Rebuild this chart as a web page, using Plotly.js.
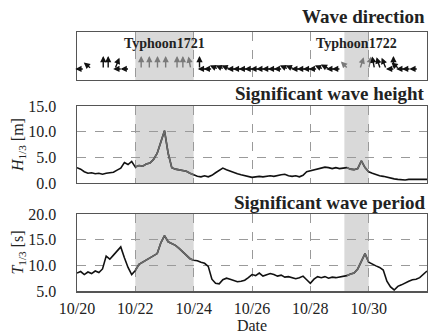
<!DOCTYPE html>
<html><head><meta charset="utf-8">
<script src="https://cdn.plot.ly/plotly-3.0.1.min.js"></script>
<style>html,body{margin:0;padding:0;background:#fff}</style>
</head><body><div id="chart" style="width:428px;height:336px"></div>
<script>
// ---- data ----
const startDate = '2017-10-20';
const sampleStepHours = 3;
// significant wave height H1/3 [m], every 3 h from 10/20 00:00
const waveHeight = [3.0,2.7,2.2,1.9,2.0,1.8,1.9,1.7,1.9,2.0,2.1,2.5,2.9,4.0,3.6,4.2,
  3.1,3.4,3.3,3.7,3.9,4.6,5.8,8.0,10.2,5.8,3.0,2.7,2.6,2.5,2.3,1.9,
  1.6,1.3,1.2,1.4,1.2,1.5,2.0,2.4,2.9,2.6,2.3,2.0,1.8,1.6,1.4,1.2,
  1.1,1.2,1.3,1.2,1.3,1.4,1.3,1.5,1.6,1.7,1.4,1.3,1.4,1.2,1.5,2.2,
  2.4,2.5,2.8,2.9,3.1,3.0,2.8,3.0,2.8,2.9,3.0,2.7,2.6,2.8,4.3,3.0,
  2.2,1.9,1.6,1.4,1.3,1.1,0.9,0.8,0.7,0.6,0.6,0.7,0.7,0.6,0.7,0.7,0.7];
// significant wave period T1/3 [s]
const wavePeriod = [8.5,8.8,8.2,8.7,8.4,8.9,8.6,9.3,11.8,11.2,12.0,12.8,13.6,11.5,9.6,8.2,
  9.0,10.2,10.6,11.0,11.4,11.9,12.3,14.4,15.8,14.6,14.3,13.9,13.3,12.6,11.9,11.3,
  11.0,10.9,10.6,10.4,9.8,7.3,6.5,6.4,7.2,7.5,7.3,7.1,6.8,6.9,7.1,7.6,
  8.2,8.0,8.5,7.9,8.1,8.4,8.2,7.9,8.1,7.7,7.8,7.6,7.4,7.6,7.9,7.2,
  6.5,7.3,7.8,7.6,7.8,7.5,7.7,7.6,7.7,7.9,8.0,8.3,8.5,9.3,10.8,12.3,
  10.6,10.2,9.9,9.6,9.1,6.9,5.8,5.2,5.9,6.2,6.6,6.9,7.2,7.3,7.6,8.3,8.9];
// wave direction arrows: day offset from 10/20 and direction (deg, clockwise from north, pointing to)
const arrowDay = [0.25,0.5,0.9,1.07,1.3,1.55,1.8,
  2.2,2.48,2.76,3.04,3.43,3.63,3.9,
  4.2,4.45,4.65,4.85,5.05,5.25,5.45,5.65,5.85,6.05,6.25,6.45,6.65,6.85,7.05,7.25,7.45,7.65,7.85,8.05,8.25,8.45,8.65,8.85,9.05,
  9.3,9.7,
  10.0,10.2,10.4,10.6,10.85,10.9,11.05,11.25,11.45,11.7];
const arrowDir = [270,300,0,0,30,270,270,
  0,0,0,0,0,0,345,
  0,270,270,285,285,285,270,270,270,270,270,270,270,270,270,285,285,270,270,270,270,285,290,270,270,
  305,25,
  15,345,335,330,0,270,300,270,270,270];
const typhoonNames = ['Typhoon1721','Typhoon1722'];
const typhoonStart = ['2017-10-22 00:00','2017-10-29 04:00'];
const typhoonEnd = ['2017-10-24 00:00','2017-10-30 00:00'];
const xRange = ['2017-10-20','2017-11-01'];

// ---- build ----
const t0 = Date.parse(startDate + 'T00:00:00Z');
function fmt(ms){ return new Date(ms).toISOString().slice(0,16).replace('T',' '); }
const times = waveHeight.map((_, i) => fmt(t0 + i*sampleStepHours*3600000));
function inTyphoon(s){ for (let k=0;k<typhoonStart.length;k++){ if (s>=typhoonStart[k] && s<=typhoonEnd[k]) return k; } return -1; }

const BLACK = '#111', GRAY = '#6a6a6a';
const traces = [];
function addSeries(vals, ya, xa){
  traces.push({x: times, y: vals, type:'scatter', mode:'lines', line:{color:BLACK, width:1.6}, xaxis:xa, yaxis:ya, hoverinfo:'skip'});
  for (let k=0;k<typhoonStart.length;k++){
    const xs=[], ys=[];
    times.forEach((t,i)=>{ if (t>=typhoonStart[k] && t<=typhoonEnd[k]) { xs.push(t); ys.push(vals[i]); } });
    traces.push({x: xs, y: ys, type:'scatter', mode:'lines', line:{color:GRAY, width:1.6}, xaxis:xa, yaxis:ya, hoverinfo:'skip'});
  }
}
addSeries(waveHeight, 'y2', 'x2');
addSeries(wavePeriod, 'y', 'x');
traces.push({x: xRange, y:[0,0], type:'scatter', mode:'lines', line:{width:0}, xaxis:'x3', yaxis:'y3', hoverinfo:'skip', showlegend:false});

const serif = '"Liberation Serif", "Times New Roman", serif';
const TXT = '#222';
const annotations = [];
const baseY = 0.23, Lx = 9, Ly = 13;
arrowDay.forEach((d, i) => {
  const th = arrowDir[i]*Math.PI/180;
  const vx = Lx*Math.sin(th), vy = Ly*Math.cos(th);
  const ts = fmt(t0 + d*86400000);
  const col = inTyphoon(ts) >= 0 ? '#7a7a7a' : BLACK;
  annotations.push({x: ts, y: baseY, xref:'x3', yref:'y3', text:'', showarrow:true,
    xshift: vx, yshift: vy, ax: -vx, ay: vy, axref:'pixel', ayref:'pixel',
    arrowhead:2, arrowsize:0.9, arrowwidth:1.4, arrowcolor: col, standoff:0, startstandoff:0});
});
typhoonNames.forEach((n,k)=>{
  const mid = fmt((Date.parse(typhoonStart[k].replace(' ','T')+':00Z') + Date.parse(typhoonEnd[k].replace(' ','T')+':00Z'))/2);
  annotations.push({x: mid, y: 0.77, xref:'x3', yref:'y3', text:'<b>'+n+'</b>', showarrow:false,
    font:{family:serif, size:14, color:TXT}});
});
const titles = [['Wave direction',1.058],['Significant wave height',0.764],['Significant wave period',0.340]];
titles.forEach(([t,y])=>annotations.push({x:1, y:y, xref:'paper', yref:'paper', xanchor:'right', yanchor:'middle',
  text:'<b>'+t+'</b>', showarrow:false, font:{family:serif, size:19, color:TXT}}));

const shapes = [];
['y','y2','y3'].forEach((ya, j) => {
  const xa = ['x','x2','x3'][j];
  for (let k=0;k<typhoonStart.length;k++){
    shapes.push({type:'rect', xref:xa, yref: ya+' domain', x0: typhoonStart[k], x1: typhoonEnd[k], y0:0, y1:1,
      fillcolor:'#d9d9d9', line:{width:0}, layer:'below'});
  }
});

const axBox = {showline:true, mirror:true, linecolor:'#555', linewidth:1.5, ticks:'', zeroline:false};
const xBase = Object.assign({}, axBox, {type:'date', range:xRange, dtick:2*86400000, tick0:'2017-10-20',
  tickformat:'%m/%d', showgrid:true, gridcolor:'#9a9a9a', griddash:'dash', gridwidth:1,
  tickfont:{family:serif, size:16, color:TXT}});
const yTitleFont = {family:serif, size:16, color:TXT};
const layout = {
  width:428, height:336, margin:{l:77, r:1, t:32, b:45},
  paper_bgcolor:'#fff', plot_bgcolor:'rgba(0,0,0,0)', showlegend:false,
  font:{family:serif, color:TXT},
  xaxis: Object.assign({}, xBase, {anchor:'y', ticklabelstandoff:2, title:{text:'Date', font:{family:serif, size:16, color:TXT}, standoff:0}}),
  xaxis2: Object.assign({}, xBase, {anchor:'y2', matches:'x', showticklabels:false}),
  xaxis3: Object.assign({}, xBase, {anchor:'y3', matches:'x', showticklabels:false}),
  yaxis: Object.assign({}, axBox, {domain:[0,0.297], range:[5,20], dtick:5, tickformat:'.1f', ticklabelstandoff:16,
    showgrid:true, gridcolor:'#9a9a9a', griddash:'dash', tickfont:{family:serif, size:16, color:TXT},
    title:{text:'<i>T</i><sub>1/3</sub> [s]', font:yTitleFont, standoff:0}}),
  yaxis2: Object.assign({}, axBox, {domain:[0.417,0.714], range:[0,15], dtick:5, tickformat:'.1f', ticklabelstandoff:16,
    showgrid:true, gridcolor:'#9a9a9a', griddash:'dash', tickfont:{family:serif, size:16, color:TXT},
    title:{text:'<i>H</i><sub>1/3</sub> [m]', font:yTitleFont, standoff:0}}),
  yaxis3: Object.assign({}, axBox, {domain:[0.8147,1], range:[0,1], showticklabels:false, showgrid:false}),
  annotations: annotations, shapes: shapes
};
Plotly.newPlot('chart', traces, layout, {staticPlot:true, displayModeBar:false});
</script></body></html>
